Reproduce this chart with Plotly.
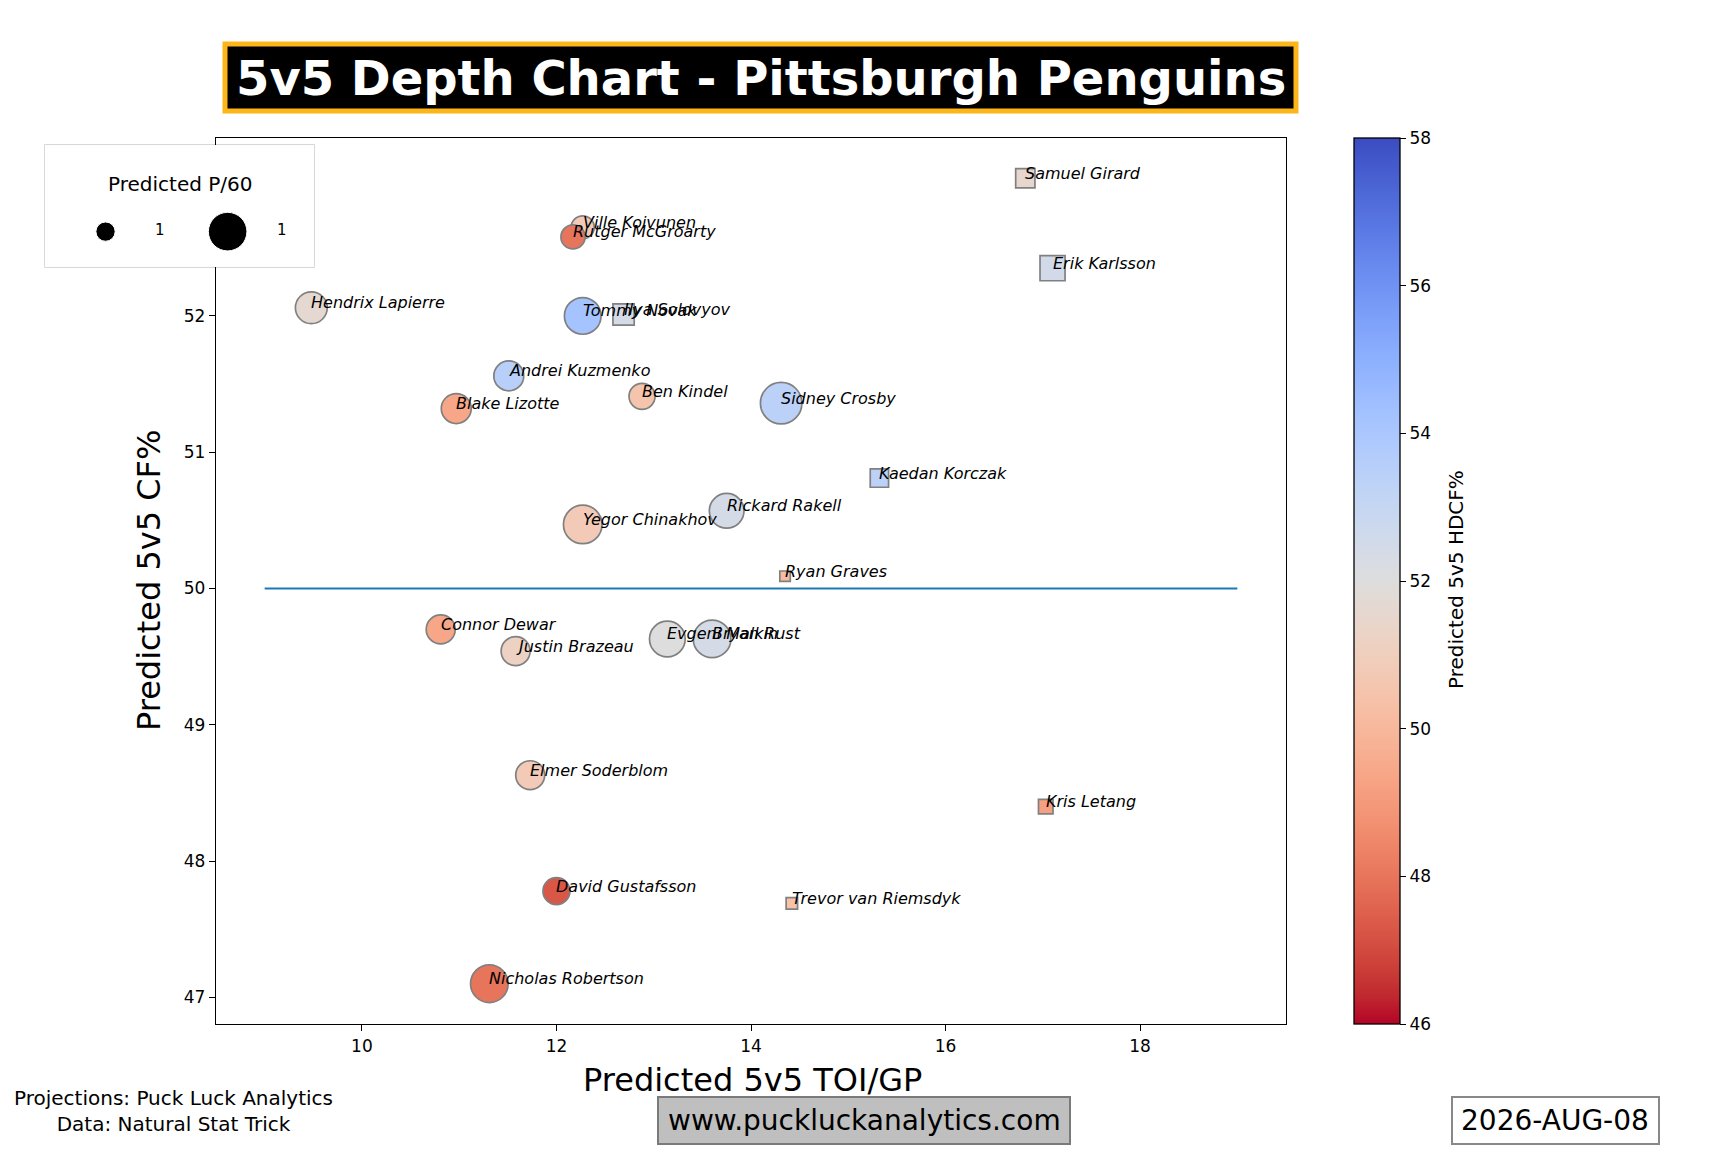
import math
import plotly.graph_objects as go

W, H = 1728, 1152

# forwards (circles)
fwd_names = ["Hendrix Lapierre", "Ville Koivunen", "Rutger McGroarty", "Tommy Novak",
             "Andrei Kuzmenko", "Ben Kindel", "Blake Lizotte", "Sidney Crosby",
             "Rickard Rakell", "Yegor Chinakhov", "Connor Dewar", "Evgeni Malkin",
             "Bryan Rust", "Justin Brazeau", "Elmer Soderblom", "David Gustafsson",
             "Nicholas Robertson"]
fwd_toi = [9.48, 12.27, 12.17, 12.27, 11.51, 12.88, 10.97, 14.31, 13.75, 12.27,
           10.81, 13.14, 13.60, 11.58, 11.73, 12.00, 11.31]
fwd_cf = [52.06, 52.65, 52.58, 52.00, 51.56, 51.41, 51.32, 51.36, 50.57, 50.47,
          49.70, 49.63, 49.63, 49.54, 48.63, 47.78, 47.10]
fwd_hdcf = [51.6, 50.8, 48.0, 54.2, 53.5, 50.5, 49.4, 53.4, 52.4, 50.8,
            49.4, 52.0, 52.4, 51.2, 50.8, 47.3, 48.0]
fwd_p60 = [1.39, 0.73, 0.80, 1.84, 1.23, 0.93, 1.23, 2.36, 1.65, 2.04,
           1.15, 1.75, 1.94, 1.15, 1.15, 1.00, 1.94]

# defence (squares)
def_names = ["Samuel Girard", "Erik Karlsson", "Ilya Solovyov", "Kaedan Korczak",
             "Ryan Graves", "Kris Letang", "Trevor van Riemsdyk"]
def_toi = [16.82, 17.10, 12.69, 15.32, 14.35, 17.03, 14.42]
def_cf = [53.01, 52.35, 52.01, 50.81, 50.09, 48.40, 47.69]
def_hdcf = [51.5, 52.5, 52.4, 53.4, 50.2, 49.2, 50.4]
def_p60 = [0.51, 0.86, 0.62, 0.46, 0.15, 0.29, 0.18]

# 50% reference line
line_x = [9, 19]
line_y = [50, 50]

# size legend
legend_p60 = [0.51, 2.04]
legend_labels = ["1", "1"]

x_ticks = [10, 12, 14, 16, 18]
y_ticks = [47, 48, 49, 50, 51, 52, 53]
cbar_ticks = [46, 48, 50, 52, 54, 56, 58]
cbar_min, cbar_max = 46, 58

title_text = "5v5 Depth Chart - Pittsburgh Penguins"
date_text = "2026-AUG-08"

SIZE_K = 27.0
FONT = "DejaVu Sans"

# coolwarm reversed (red low -> blue high)
coolwarm = [(59, 76, 192), (68, 90, 204), (77, 104, 215), (87, 117, 225), (98, 130, 234),
            (108, 142, 241), (119, 154, 247), (130, 165, 251), (141, 176, 254),
            (152, 185, 255), (163, 194, 255), (174, 201, 253), (184, 208, 249),
            (194, 213, 244), (204, 217, 238), (213, 219, 230), (221, 221, 221),
            (229, 216, 209), (236, 211, 197), (241, 204, 185), (245, 196, 173),
            (247, 187, 160), (247, 177, 148), (247, 166, 135), (244, 154, 123),
            (241, 141, 111), (236, 127, 99), (229, 112, 88), (222, 96, 77),
            (213, 80, 66), (203, 62, 56), (192, 40, 47), (180, 4, 38)]
n = len(coolwarm) - 1
cscale = [[i / n, "rgb(%d,%d,%d)" % c] for i, c in enumerate(reversed(coolwarm))]

# plot box in pixels
AX_L, AX_R, AX_T, AX_B = 216, 1286, 138, 1024


def px(x):
    return x / W


def py(y):
    return 1 - y / H


def label(x, y, text, size, **kw):
    d = dict(x=px(x), y=py(y), xref="paper", yref="paper", text=text, showarrow=False,
             xanchor="center", yanchor="middle",
             font=dict(family=FONT, size=size, color=kw.pop("color", "black")))
    d.update(kw)
    return d


# axes limits like matplotlib autoscale (5% margin)
all_x = fwd_toi + def_toi + line_x
all_y = fwd_cf + def_cf + line_y
xpad = (max(all_x) - min(all_x)) * 0.05
ypad = (max(all_y) - min(all_y)) * 0.05

fig = go.Figure()

fig.add_trace(go.Scatter(x=line_x, y=line_y, mode="lines",
                         line=dict(color="#1f77b4", width=2.2),
                         showlegend=False, hoverinfo="skip"))

fig.add_trace(go.Scatter(
    x=fwd_toi, y=fwd_cf, mode="markers", text=fwd_names, showlegend=False,
    marker=dict(symbol="circle", size=[SIZE_K * math.sqrt(p) for p in fwd_p60],
                color=fwd_hdcf, coloraxis="coloraxis", opacity=1,
                line=dict(color="#808080", width=1.7))))

fig.add_trace(go.Scatter(
    x=def_toi, y=def_cf, mode="markers", text=def_names, showlegend=False,
    marker=dict(symbol="square", size=[SIZE_K * math.sqrt(p) for p in def_p60],
                color=def_hdcf, coloraxis="coloraxis", opacity=1,
                line=dict(color="#808080", width=1.7))))

# size legend drawn on a hidden little axis
leg_x = [0.225, 0.679]
fig.add_trace(go.Scatter(
    x=leg_x, y=[0.29] * len(legend_p60), mode="markers", xaxis="x2", yaxis="y2",
    showlegend=False, hoverinfo="skip",
    marker=dict(color="black", opacity=1,
                size=[SIZE_K * math.sqrt(p) for p in legend_p60])))

annotations = []
for names, xs, ys in [(fwd_names, fwd_toi, fwd_cf), (def_names, def_toi, def_cf)]:
    for nm, xv, yv in zip(names, xs, ys):
        annotations.append(dict(x=xv, y=yv, xref="x", yref="y", text="<i>%s</i>" % nm,
                                showarrow=False, xanchor="left", yanchor="middle",
                                xshift=-2, yshift=5,
                                font=dict(family=FONT, size=16, color="black")))

annotations.append(dict(x=0.502, y=0.68, xref="x2 domain", yref="y2 domain",
                        text="Predicted P/60", showarrow=False,
                        xanchor="center", yanchor="middle",
                        font=dict(family=FONT, size=20, color="black")))
for lx, lab in zip([0.428, 0.882], legend_labels):
    annotations.append(dict(x=lx, y=0.30, xref="x2 domain", yref="y2 domain",
                            text=lab, showarrow=False, xanchor="center", yanchor="middle",
                            font=dict(family=FONT, size=15, color="black")))

annotations += [
    label(760.5, 77.5, "<b>%s</b>" % title_text, 48, color="white"),
    label(752, 1080, "Predicted 5v5 TOI/GP", 32),
    label(149, 581, "Predicted 5v5 CF%", 32, textangle=-90),
    label(1456, 580, "Predicted 5v5 HDCF%", 20, textangle=-90),
    label(173, 1111, "Projections: Puck Luck Analytics<br>Data: Natural Stat Trick", 20,
          align="center"),
    label(864, 1120, "www.puckluckanalytics.com", 28),
    label(1555, 1120, date_text, 28),
]

shapes = [
    dict(type="rect", xref="paper", yref="paper", x0=px(225), x1=px(1296), y0=py(111), y1=py(44),
         fillcolor="black", line=dict(color="#FCB61A", width=5), layer="above"),
    dict(type="rect", xref="x2 domain", yref="y2 domain", x0=0, x1=1, y0=0, y1=1,
         fillcolor="rgba(255,255,255,0.8)", line=dict(color="#cccccc", width=1.5), layer="below"),
    dict(type="rect", xref="paper", yref="paper", x0=px(658), x1=px(1070), y0=py(1144), y1=py(1097),
         fillcolor="#bfbfbf", line=dict(color="#7a7a7a", width=2)),
    dict(type="rect", xref="paper", yref="paper", x0=px(1452), x1=px(1659), y0=py(1144), y1=py(1097),
         fillcolor="white", line=dict(color="#888888", width=2)),
]

axis_common = dict(showgrid=False, zeroline=False, ticks="outside", ticklen=6, tickwidth=1.3,
                   linecolor="black", linewidth=1.3, mirror=True, tickcolor="black",
                   tickfont=dict(family=FONT, size=17, color="black"))

fig.update_layout(
    width=W, height=H, margin=dict(l=0, r=0, t=0, b=0),
    paper_bgcolor="white", plot_bgcolor="white", showlegend=False,
    xaxis=dict(domain=[px(AX_L), px(AX_R)], range=[min(all_x) - xpad, max(all_x) + xpad],
               tickvals=x_ticks, **axis_common),
    yaxis=dict(domain=[py(AX_B), py(AX_T)], range=[min(all_y) - ypad, max(all_y) + ypad],
               tickvals=y_ticks, **axis_common),
    xaxis2=dict(domain=[px(45), px(314)], range=[0, 1], anchor="y2", visible=False, fixedrange=True),
    yaxis2=dict(domain=[py(267), py(145)], range=[0, 1], anchor="x2", visible=False, fixedrange=True),
    coloraxis=dict(colorscale=cscale, cmin=cbar_min, cmax=cbar_max,
                   colorbar=dict(x=px(1354), xanchor="left", y=py((AX_T + AX_B) / 2),
                                 yanchor="middle", len=(AX_B - AX_T) / H, lenmode="fraction",
                                 thickness=46, thicknessmode="pixels", xpad=0, ypad=0,
                                 outlinewidth=1.3, outlinecolor="black",
                                 ticks="outside", ticklen=6, tickcolor="black",
                                 tickvals=cbar_ticks,
                                 tickfont=dict(family=FONT, size=17, color="black"))),
    annotations=annotations, shapes=shapes,
)

# drop the default page margin so the figure sits at the window corner
fig.write_html("out.html", config={"displayModeBar": False},
               post_script="document.body.style.margin='0';")
